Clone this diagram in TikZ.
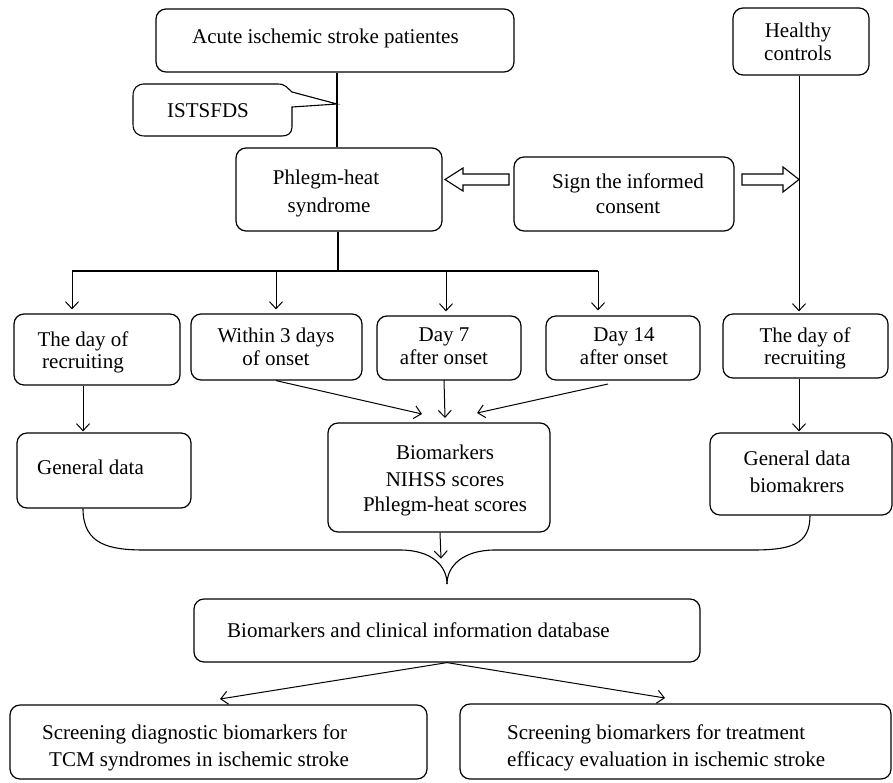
\documentclass[tikz,border=0pt]{standalone}
\usepackage{fontspec}
\setmainfont{Liberation Serif}
\usetikzlibrary{arrows.meta}
\begin{document}
\begin{tikzpicture}[x=1pt,y=-1pt,
  box/.style={draw, line width=1.2pt, rounded corners=10pt, inner sep=0pt},
  txt/.style={inner sep=0pt, font=\fontsize{21}{25}\selectfont},
  ln/.style={line width=1.1pt},
  arr/.style={line width=1pt, -{Straight Barb[length=7pt,width=13pt]}},
  hollow/.style={draw, line width=1.1pt, fill=white}]
\useasboundingbox[fill=white] (0,0) rectangle (893,782);

% boxes
\node[box, minimum width=358pt, minimum height=63pt] (acute) at (335,40.5) {};
\node[box, minimum width=136pt, minimum height=67pt] (healthy) at (801,41.5) {};
\node[box, minimum width=206pt, minimum height=83pt] (phlegm) at (339,189.5) {};
\node[box, minimum width=220pt, minimum height=74pt] (sign) at (624,194) {};
\node[box, minimum width=166pt, minimum height=71pt] (rec1) at (97,349.5) {};
\node[box, minimum width=171pt, minimum height=66pt] (within) at (276.5,347) {};
\node[box, minimum width=144pt, minimum height=64pt] (day7) at (449,348) {};
\node[box, minimum width=154pt, minimum height=64pt] (day14) at (623,348) {};
\node[box, minimum width=165pt, minimum height=64pt] (rec2) at (805.5,346) {};
\node[box, minimum width=174pt, minimum height=75pt] (gen1) at (104,470.5) {};
\node[box, minimum width=222pt, minimum height=109pt] (bio) at (439,477.5) {};
\node[box, minimum width=182pt, minimum height=82pt] (gen2) at (801,474) {};
\node[box, minimum width=506pt, minimum height=63pt] (db) at (447,630.5) {};
\node[box, minimum width=417pt, minimum height=74pt] (out1) at (218.5,742) {};
\node[box, minimum width=431pt, minimum height=75pt] (out2) at (675.5,741.5) {};

% callout
\draw[ln] (143,84) -- (278,84) .. controls (286,84) and (288,89) .. (292,92) -- (337,104)
  -- (292,107) -- (292,127) .. controls (292,133) and (288,136) .. (282,136) -- (145,136)
  .. controls (137,136) and (133,132) .. (133,124) -- (133,96) .. controls (133,88) and (137,84) .. (145,84) -- cycle;

% texts
\node[txt, anchor=base west] (tacute) at (192,43) {Acute ischemic stroke patientes};
\node[txt, anchor=base] (th1) at (798,37) {Healthy};
\node[txt, anchor=base] (th2) at (798,60) {controls};
\node[txt, anchor=base west] (tist) at (167,117) {ISTSFDS};
\node[txt, anchor=base] (tp1) at (326,184) {Phlegm-heat};
\node[txt, anchor=base] (tp2) at (329,212) {syndrome};
\node[txt, anchor=base] (ts1) at (628,188) {Sign the informed};
\node[txt, anchor=base] (ts2) at (628,213) {consent};
\node[txt, anchor=base] (tr1a) at (83,346) {The day of};
\node[txt, anchor=base] (tr1b) at (83,368) {recruiting};
\node[txt, anchor=base] (tw1) at (276,342) {Within 3 days};
\node[txt, anchor=base] (tw2) at (276,365) {of onset};
\node[txt, anchor=base] (td71) at (444,341) {Day 7};
\node[txt, anchor=base] (td72) at (444,364) {after onset};
\node[txt, anchor=base] (td141) at (624,341) {Day 14};
\node[txt, anchor=base] (td142) at (624,364) {after onset};
\node[txt, anchor=base] (tr2a) at (805,342) {The day of};
\node[txt, anchor=base] (tr2b) at (805,364) {recruiting};
\node[txt, anchor=base west] (tg1) at (37,474) {General data};
\node[txt, anchor=base] (tb1) at (445,459) {Biomarkers};
\node[txt, anchor=base] (tb2) at (445,486) {NIHSS scores};
\node[txt, anchor=base] (tb3) at (445,511) {Phlegm-heat scores};
\node[txt, anchor=base] (tg2a) at (797,465) {General data};
\node[txt, anchor=base] (tg2b) at (797,492) {biomakrers};
\node[txt, anchor=base west] (tdb) at (227,637) {Biomarkers and clinical information database};
\node[txt, anchor=base west] (to1a) at (42,739) {Screening diagnostic biomarkers for};
\node[txt, anchor=base west] (to1b) at (49,766) {TCM syndromes in ischemic stroke};
\node[txt, anchor=base west] (to2a) at (507,739) {Screening biomarkers for treatment};
\node[txt, anchor=base west] (to2b) at (507,766) {efficacy evaluation in ischemic stroke};

% helper coordinates
\coordinate (ax) at (337,0);
\coordinate (hb) at (338,271);
\coordinate (b1) at (72,271);
\coordinate (b2) at (276,271);
\coordinate (b3) at (446,271);
\coordinate (b4) at (598,271);
\coordinate (hx) at (799,0);
\coordinate (g1x) at (83,0);
\coordinate (t1) at (422,414);
\coordinate (s2) at (444,380);
\coordinate (t2) at (445,418);
\coordinate (s3) at (608,384);
\coordinate (t3) at (477,413);
\coordinate (bx) at (440,0);
\coordinate (tip) at (447,584);
\coordinate (g2x) at (810,0);
\coordinate (dbx) at (447,0);
\coordinate (o1) at (220,699);
\coordinate (o2) at (665,698);

% connectors
\draw[ln] (acute.south -| ax) -- (phlegm.north -| ax);
\draw[line width=1.6pt] (phlegm.south -| hb) -- (hb);
\draw[ln] (b1) -- (b4);
\draw[arr, shorten >=4pt] (b1) -- (b1 |- rec1.north);
\draw[arr, shorten >=4pt] (b2) -- (b2 |- within.north);
\draw[arr, shorten >=4pt] (b3) -- (b3 |- day7.north);
\draw[arr, shorten >=5pt] (b4) -- (b4 |- day14.north);
\draw[arr, shorten >=2pt] (healthy.south -| hx) -- (rec2.north -| hx);
\draw[arr, shorten >=1pt] (rec1.south -| g1x) -- (gen1.north -| g1x);
\draw[arr] (within.south -| b2) -- (t1);
\draw[arr] (s2) -- (t2);
\draw[arr] (s3) -- (t3);
\draw[arr, shorten >=1pt] (rec2.south -| hx) -- (gen2.north -| hx);
\draw[arr] (bio.south -| bx) -- ++(1,26);
\draw[ln] (gen1.south -| g1x) .. controls (83,545) and (110,550) .. (145,550) -- (400,550)
  .. controls (432,550) and (447,566) .. (tip);
\draw[ln] (gen2.south -| g2x) .. controls (810,545) and (790,550) .. (752,550) -- (495,550)
  .. controls (463,550) and (447,566) .. (tip);
\draw[arr] (db.south -| dbx) -- (o1);
\draw[arr] (db.south -| dbx) -- (o2);

% hollow arrows
\draw[hollow] (509,174) -- (463,174) -- (463,168) -- (445,179.5) -- (463,191) -- (463,185) -- (509,185) -- cycle;
\draw[hollow] (742,174) -- (783,174) -- (783,167) -- (799,179.5) -- (783,192) -- (783,185) -- (742,185) -- cycle;
\end{tikzpicture}
\end{document}
